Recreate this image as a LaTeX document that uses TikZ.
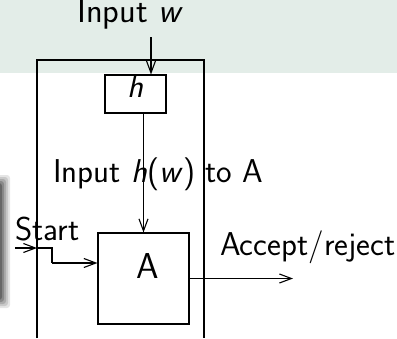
\documentclass[tikz,border=0pt]{standalone}
\usetikzlibrary{arrows.meta}
\definecolor{bandgreen}{RGB}{227,237,232}
\tikzset{
  wire/.style={line width=1.1pt, -{Straight Barb[length=12pt,width=9pt,line width=1.1pt]}},
  plain/.style={line width=1.1pt},
  box/.style={draw, line width=1.1pt, inner sep=0pt},
  lbl/.style={font=\sffamily\fontsize{33}{40}\selectfont, inner sep=0pt, anchor=base west}
}
\begin{document}
\begin{tikzpicture}[x=1pt,y=-1pt]
  \useasboundingbox (0,0) rectangle (397,338);
  % title band
  \fill[bandgreen] (0,0) rectangle (397,73);
  % shadow edge of a neighbouring block
  \foreach \o/\w in {0.10/10,0.12/8,0.15/6,0.2/4,0.25/2}{
    \fill[black,opacity=\o,rounded corners=3pt] (-10,{175+10-\w}) rectangle (\w,{308-10+\w});
  }
  % outer frame, open at the bottom
  \draw[plain] (37,338) -- (37,60) -- (204,60) -- (204,338);
  % hash box and machine A
  \node[box, minimum width=61pt, minimum height=38pt] (h) at (135.5,94) {};
  \node[lbl, anchor=base, font=\sffamily\itshape\fontsize{33}{40}\selectfont] (hl) at (135.5,97) {h};
  \node[box, minimum width=91pt, minimum height=91pt] (A) at (143.5,278.5) {};
  \node[lbl, anchor=base, font=\sffamily\fontsize{36}{42}\selectfont] (Al) at (147.5,278) {A};
  % labels
  \node[lbl, font=\sffamily\fontsize{34.5}{41}\selectfont] (inw) at (77,22.5) {Input \textit{w}};
  \node[lbl] (inh) at (53,182) {Input \textit{h}(\textit{w}) to A};
  \node[lbl] (st) at (15,240) {Start};
  \node[lbl] (acc) at (220,255) {Accept/reject};
  % connectors
  \coordinate (wtop) at (151,37);
  \draw[wire] (wtop) -- (wtop |- h.north);
  \draw[wire] (A.north |- h.south) -- (A.north);
  \coordinate (s0) at (15,248);
  \coordinate (s1) at (37,248);
  \coordinate (s2) at (52,248);
  \coordinate (s3) at (52,263);
  \draw[wire] (s0) -- (s1);
  \draw[plain] (s1) -- (s2) -- (s3);
  \draw[wire] (s3) -- (s3 -| A.west);
  \coordinate (out) at (293,278.5);
  \draw[wire] (A.east) -- (out);
\end{tikzpicture}
\end{document}
